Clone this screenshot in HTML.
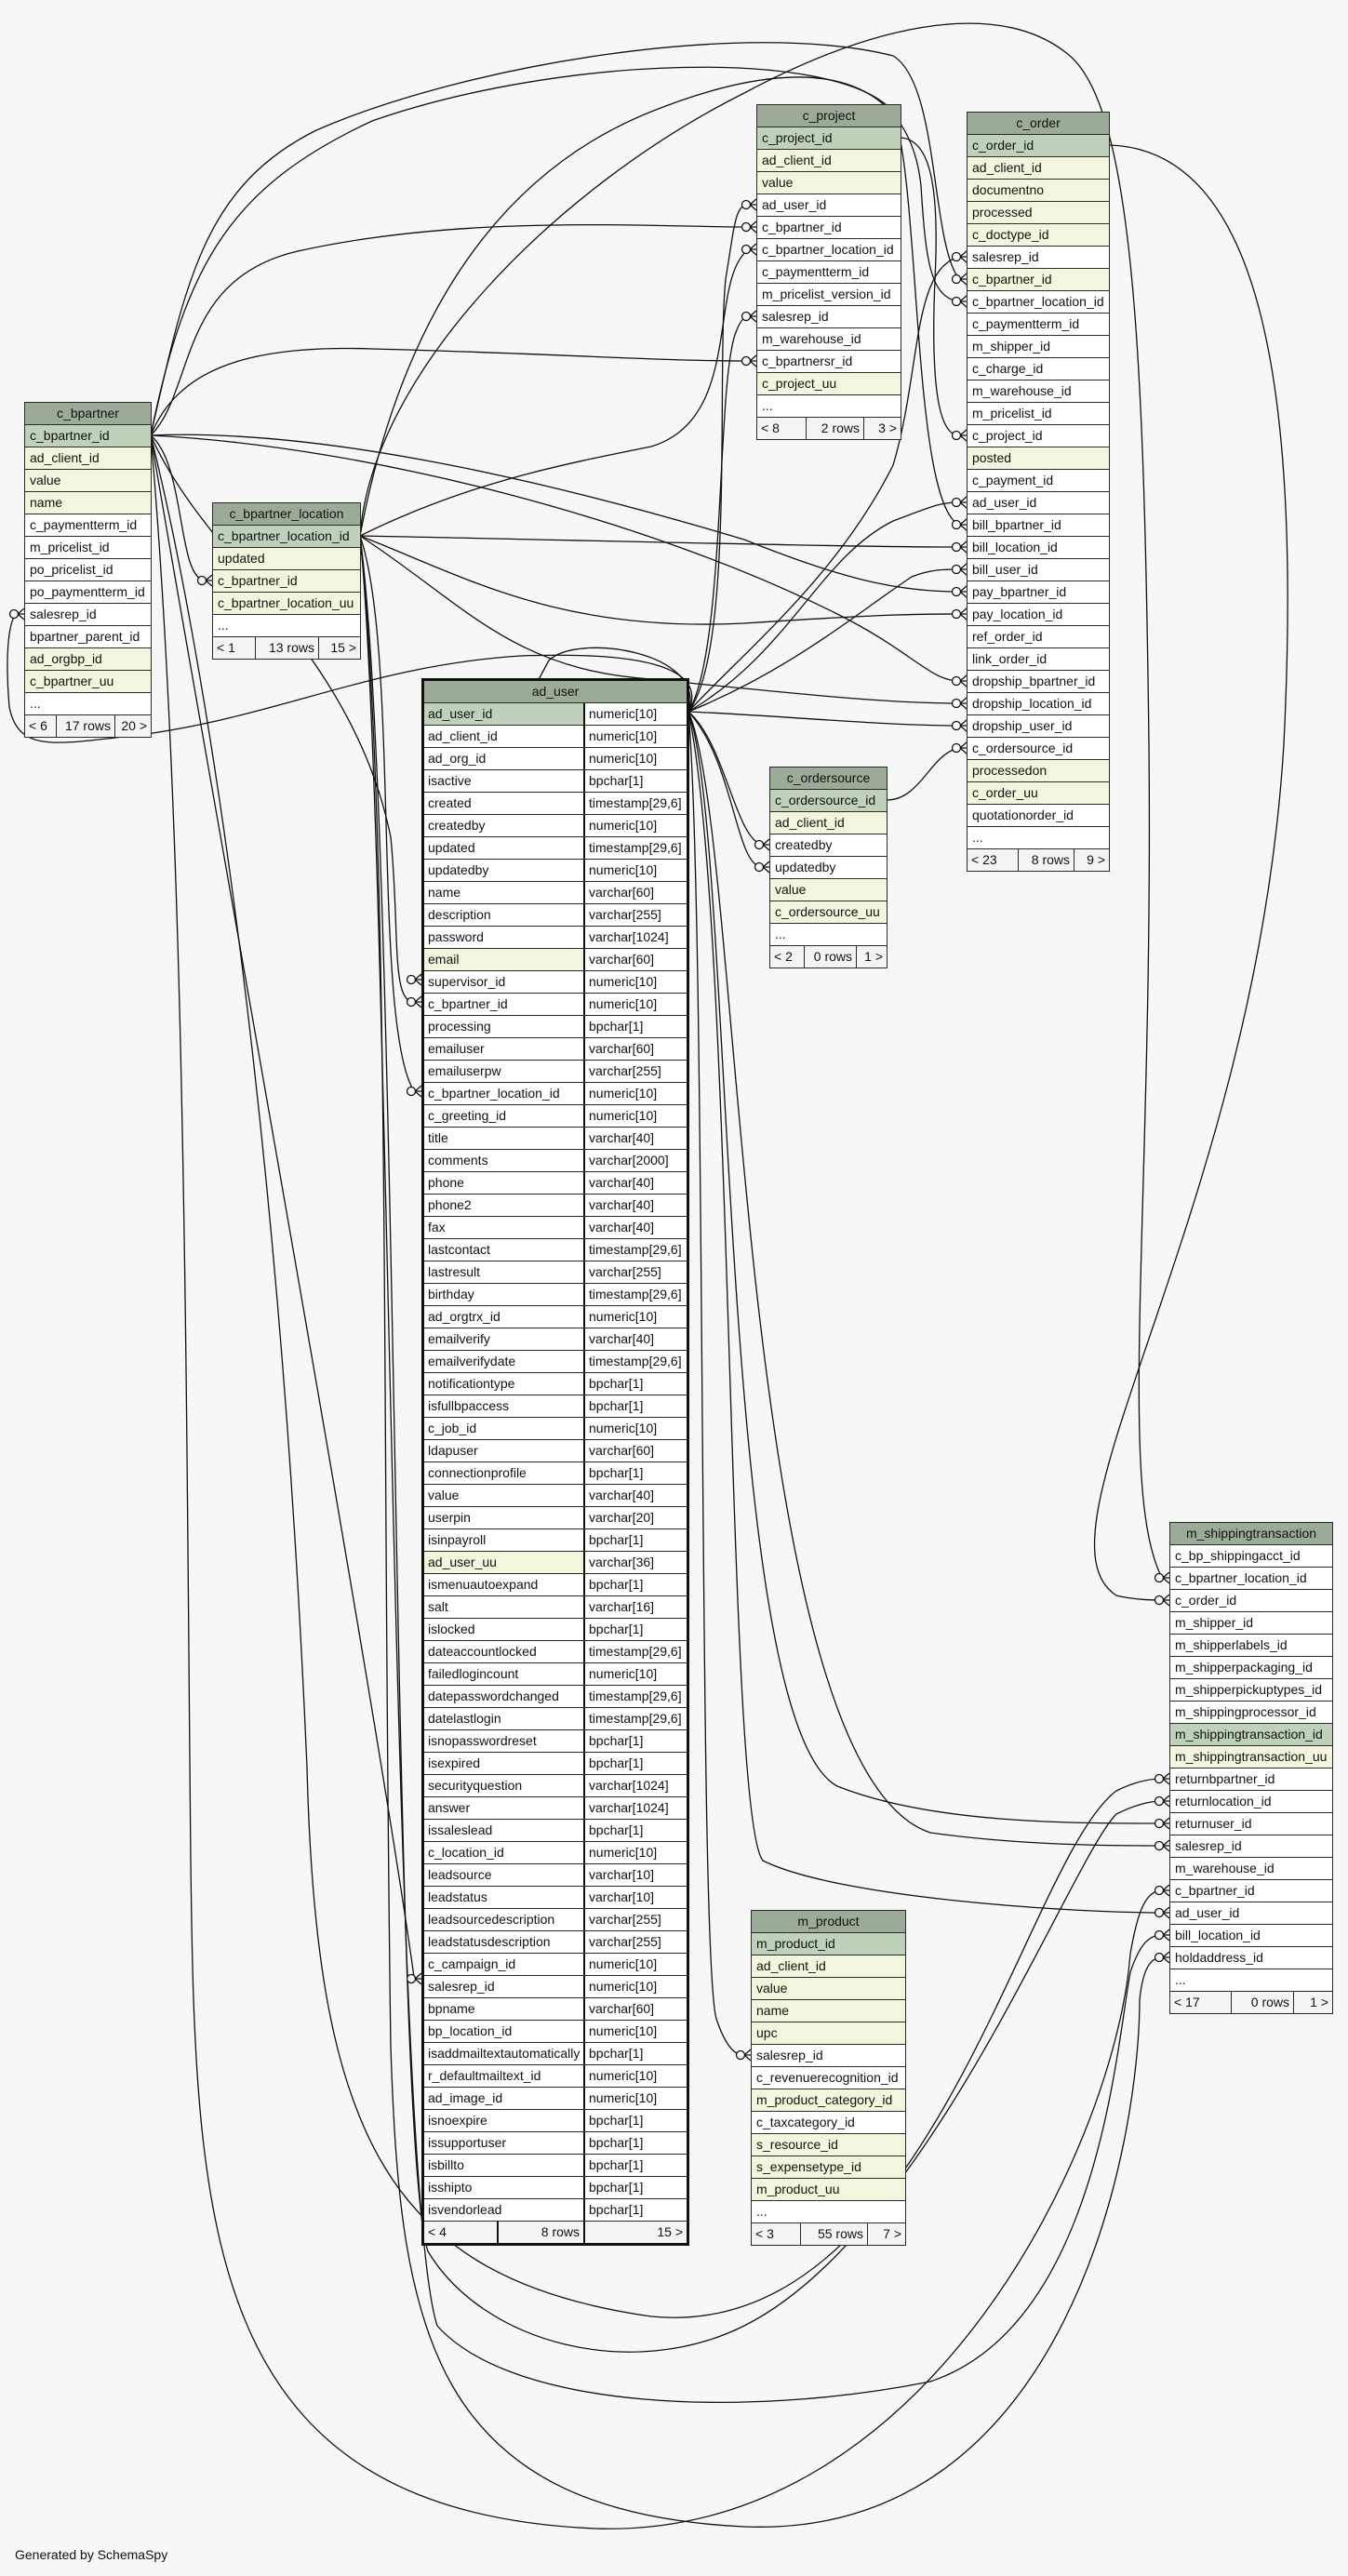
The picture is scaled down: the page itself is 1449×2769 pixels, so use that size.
<!DOCTYPE html>
<html><head><meta charset="utf-8"><style>
body{margin:0;background:#f7f7f7;width:1449px;height:2769px;position:relative;overflow:hidden;font-family:"Liberation Sans",Arial,sans-serif;font-size:14px;color:#111}
svg{position:absolute;left:0;top:0}
.t{position:absolute;box-sizing:border-box;border:1px solid #2a2a2a;background:#fff}
.t>div{height:23px;border-top:1px solid #2a2a2a;line-height:23px;padding-left:5px;white-space:nowrap;overflow:hidden}
.t>div:first-child{border-top:none}
.t>.h{background:#9cab97;text-align:center;padding-left:0}
.t>.p{background:#bfd1bb}
.t>.y{background:#f3f6dc}
.t>.f{display:flex;padding-left:0;background:#f4f4f4}
.f span{display:block;box-sizing:border-box;padding:0 4px;border-left:1px solid #2a2a2a}
.f span:first-child{border-left:none;text-align:left}
.f span.r{text-align:right}
.au{border:3px solid #111}
.au>div{display:flex;padding-left:0}
.au>div span{display:block;box-sizing:border-box;padding-left:4px}
.au>div span.b{border-left:2px solid #111;flex:1}
.au>div span.a{width:171px}
.au>.h{display:block}
.gen{position:absolute;left:16px;top:2738px;font-size:14px}
</style></head><body>
<svg width="1449" height="2769" viewBox="0 0 1449 2769">
<defs>
<g id="cf" fill="none" stroke="#111" stroke-width="1.3"><path d="M-7,0 L0,-6 M-7,0 L0,0 M-7,0 L0,6"/><circle cx="-11" cy="0" r="4.5" fill="#f7f7f7"/></g>
</defs>
<g fill="none" stroke="#111" stroke-width="1.3">
<path d="M162,468 C210,420 190,300 320,270 C500,230 700,244 805,244"/>
<path d="M162,468 C190,400 260,370 400,375 C600,380 700,388 805,388"/>
<path d="M162,468 C200,300 220,200 340,140 C500,70 800,20 960,60 C1010,90 1000,260 1031,300"/>
<path d="M162,468 C200,280 250,200 400,130 C600,60 900,50 960,120 C990,200 980,540 1031,564"/>
<path d="M162,468 C350,460 600,520 800,580 C900,620 960,636 1031,636"/>
<path d="M162,468 C400,480 700,560 900,660 C980,700 1000,732 1031,732"/>
<path d="M162,468 C200,500 190,620 220,624"/>
<path d="M162,468 C220,600 380,700 420,900 C430,1000 420,1077 445,1077"/>
<path d="M162,468 C200,900 200,1500 205,2000 C210,2400 220,2700 640,2718 C1000,2730 1200,2300 1215,2100 C1222,2060 1230,2032 1249,2032"/>
<path d="M162,468 C220,700 300,1200 330,1900 C340,2300 420,2450 700,2490 C1000,2520 1100,2000 1200,1925 C1220,1915 1235,1912 1249,1912"/>
<path d="M162,468 C200,700 400,1800 445,2125"/>
<path d="M387,576 C500,520 600,500 700,480 C800,450 760,300 805,268"/>
<path d="M387,576 C420,400 500,200 700,120 C900,40 980,100 990,200 C995,280 1000,320 1031,324"/>
<path d="M387,576 C600,580 900,588 1031,588"/>
<path d="M387,576 C500,620 600,680 800,670 C950,660 990,660 1031,660"/>
<path d="M387,576 C500,650 550,720 700,730 C850,745 950,756 1031,756"/>
<path d="M387,576 C430,700 400,1100 445,1173"/>
<path d="M387,576 C400,400 600,200 800,100 C950,20 1080,0 1150,60 C1220,120 1230,400 1235,800 C1240,1300 1200,1600 1249,1696"/>
<path d="M387,576 C420,900 410,1500 420,2200 C430,2500 460,2700 800,2716 C1150,2730 1225,2300 1225,2150 C1228,2120 1235,2104 1249,2104"/>
<path d="M387,576 C430,900 420,2300 460,2420 C520,2520 680,2560 800,2500 C1000,2400 1150,2000 1200,1950 C1220,1940 1235,1936 1249,1936"/>
<path d="M387,576 C420,900 420,2350 470,2500 C550,2590 800,2600 1000,2560 C1180,2500 1200,2200 1215,2120 C1225,2090 1235,2080 1249,2080"/>
<path d="M740,765 C850,700 880,600 960,560 C1000,545 1010,540 1031,540"/>
<path d="M740,765 C850,720 920,660 980,620 C1000,612 1015,612 1031,612"/>
<path d="M740,765 C850,770 950,780 1031,780"/>
<path d="M740,765 C790,700 770,400 780,300 C790,240 790,220 805,220"/>
<path d="M740,765 C780,700 770,420 790,360 C795,345 800,340 805,340"/>
<path d="M740,765 C800,700 900,620 960,500 C990,400 980,290 1031,276"/>
<path d="M740,765 C780,800 790,900 819,908"/>
<path d="M740,765 C790,820 790,930 819,932"/>
<path d="M740,765 C790,900 770,1850 900,1920 C1000,1960 1150,1960 1249,1960"/>
<path d="M740,765 C800,900 790,1900 1000,1970 C1100,1984 1200,1984 1249,1984"/>
<path d="M740,765 C790,1000 780,1950 820,2000 C900,2040 1150,2056 1249,2056"/>
<path d="M740,765 C760,1000 750,2100 770,2170 C780,2200 790,2209 799,2209"/>
<path d="M740,765 C760,720 700,700 560,705 C400,715 300,770 150,790 C60,800 20,810 10,760 C5,700 10,665 18,660"/>
<path d="M740,765 C760,700 620,680 590,710 C540,800 470,980 453,1050"/>
<path d="M1192,156 C1350,160 1400,400 1380,800 C1350,1300 1100,1650 1200,1715 C1220,1720 1240,1720 1249,1720"/>
<path d="M968,148 C1000,150 1010,200 1005,300 C1000,420 1010,468 1031,468"/>
<path d="M953,860 C990,860 1000,810 1031,804"/>
</g>
<g>
<use href="#cf" x="813" y="220"/><use href="#cf" x="813" y="244"/><use href="#cf" x="813" y="268"/><use href="#cf" x="813" y="340"/><use href="#cf" x="813" y="388"/>
<use href="#cf" x="1039" y="276"/><use href="#cf" x="1039" y="300"/><use href="#cf" x="1039" y="324"/><use href="#cf" x="1039" y="468"/><use href="#cf" x="1039" y="540"/><use href="#cf" x="1039" y="564"/><use href="#cf" x="1039" y="588"/><use href="#cf" x="1039" y="612"/><use href="#cf" x="1039" y="636"/><use href="#cf" x="1039" y="660"/><use href="#cf" x="1039" y="732"/><use href="#cf" x="1039" y="756"/><use href="#cf" x="1039" y="780"/><use href="#cf" x="1039" y="804"/>
<use href="#cf" x="228" y="624"/><use href="#cf" x="26" y="660"/>
<use href="#cf" x="453" y="1053"/><use href="#cf" x="453" y="1077"/><use href="#cf" x="453" y="1173"/><use href="#cf" x="453" y="2127"/>
<use href="#cf" x="827" y="908"/><use href="#cf" x="827" y="932"/>
<use href="#cf" x="807" y="2209"/>
<use href="#cf" x="1257" y="1696"/><use href="#cf" x="1257" y="1720"/><use href="#cf" x="1257" y="1912"/><use href="#cf" x="1257" y="1936"/><use href="#cf" x="1257" y="1960"/><use href="#cf" x="1257" y="1984"/><use href="#cf" x="1257" y="2032"/><use href="#cf" x="1257" y="2056"/><use href="#cf" x="1257" y="2080"/><use href="#cf" x="1257" y="2104"/>
</g>
</svg>

<div class="t" style="left:26px;top:432px;width:137px">
<div class="h">c_bpartner</div><div class="p">c_bpartner_id</div><div class="y">ad_client_id</div><div class="y">value</div><div class="y">name</div><div>c_paymentterm_id</div><div>m_pricelist_id</div><div>po_pricelist_id</div><div>po_paymentterm_id</div><div>salesrep_id</div><div>bpartner_parent_id</div><div class="y">ad_orgbp_id</div><div class="y">c_bpartner_uu</div><div>...</div>
<div class="f"><span style="width:33px">&lt; 6</span><span class="r" style="width:63px">17 rows</span><span class="r" style="flex:1">20 &gt;</span></div>
</div>

<div class="t" style="left:228px;top:540px;width:160px">
<div class="h">c_bpartner_location</div><div class="p">c_bpartner_location_id</div><div class="y">updated</div><div class="y">c_bpartner_id</div><div class="y">c_bpartner_location_uu</div><div>...</div>
<div class="f"><span style="width:45px">&lt; 1</span><span class="r" style="width:68px">13 rows</span><span class="r" style="flex:1">15 &gt;</span></div>
</div>

<div class="t" style="left:813px;top:112px;width:156px">
<div class="h">c_project</div><div class="p">c_project_id</div><div class="y">ad_client_id</div><div class="y">value</div><div>ad_user_id</div><div>c_bpartner_id</div><div>c_bpartner_location_id</div><div>c_paymentterm_id</div><div>m_pricelist_version_id</div><div>salesrep_id</div><div>m_warehouse_id</div><div>c_bpartnersr_id</div><div class="y">c_project_uu</div><div>...</div>
<div class="f"><span style="width:52px">&lt; 8</span><span class="r" style="width:62px">2 rows</span><span class="r" style="flex:1">3 &gt;</span></div>
</div>

<div class="t" style="left:1039px;top:120px;width:154px">
<div class="h">c_order</div><div class="p">c_order_id</div><div class="y">ad_client_id</div><div class="y">documentno</div><div class="y">processed</div><div class="y">c_doctype_id</div><div>salesrep_id</div><div class="y">c_bpartner_id</div><div>c_bpartner_location_id</div><div>c_paymentterm_id</div><div>m_shipper_id</div><div>c_charge_id</div><div>m_warehouse_id</div><div>m_pricelist_id</div><div>c_project_id</div><div class="y">posted</div><div>c_payment_id</div><div>ad_user_id</div><div>bill_bpartner_id</div><div>bill_location_id</div><div>bill_user_id</div><div>pay_bpartner_id</div><div>pay_location_id</div><div>ref_order_id</div><div>link_order_id</div><div>dropship_bpartner_id</div><div>dropship_location_id</div><div>dropship_user_id</div><div>c_ordersource_id</div><div class="y">processedon</div><div class="y">c_order_uu</div><div>quotationorder_id</div><div>...</div>
<div class="f"><span style="width:54px">&lt; 23</span><span class="r" style="width:60px">8 rows</span><span class="r" style="flex:1">9 &gt;</span></div>
</div>

<div class="t" style="left:827px;top:824px;width:127px">
<div class="h">c_ordersource</div><div class="p">c_ordersource_id</div><div class="y">ad_client_id</div><div>createdby</div><div>updatedby</div><div class="y">value</div><div class="y">c_ordersource_uu</div><div>...</div>
<div class="f"><span style="width:36px">&lt; 2</span><span class="r" style="width:56px">0 rows</span><span class="r" style="flex:1">1 &gt;</span></div>
</div>

<div class="t" style="left:807px;top:2053px;width:167px">
<div class="h">m_product</div><div class="p">m_product_id</div><div class="y">ad_client_id</div><div class="y">value</div><div class="y">name</div><div class="y">upc</div><div>salesrep_id</div><div>c_revenuerecognition_id</div><div class="y">m_product_category_id</div><div>c_taxcategory_id</div><div class="y">s_resource_id</div><div class="y">s_expensetype_id</div><div class="y">m_product_uu</div><div>...</div>
<div class="f"><span style="width:52px">&lt; 3</span><span class="r" style="width:72px">55 rows</span><span class="r" style="flex:1">7 &gt;</span></div>
</div>

<div class="t" style="left:1257px;top:1636px;width:176px">
<div class="h">m_shippingtransaction</div><div>c_bp_shippingacct_id</div><div>c_bpartner_location_id</div><div>c_order_id</div><div>m_shipper_id</div><div>m_shipperlabels_id</div><div>m_shipperpackaging_id</div><div>m_shipperpickuptypes_id</div><div>m_shippingprocessor_id</div><div class="p">m_shippingtransaction_id</div><div class="y">m_shippingtransaction_uu</div><div>returnbpartner_id</div><div>returnlocation_id</div><div>returnuser_id</div><div>salesrep_id</div><div>m_warehouse_id</div><div>c_bpartner_id</div><div>ad_user_id</div><div>bill_location_id</div><div>holdaddress_id</div><div>...</div>
<div class="f"><span style="width:65px">&lt; 17</span><span class="r" style="width:67px">0 rows</span><span class="r" style="flex:1">1 &gt;</span></div>
</div>

<div class="t au" style="left:453px;top:729px;width:288px">
<div class="h">ad_user</div>
<div class="p"><span class="a">ad_user_id</span><span class="b" style="background:#fff">numeric[10]</span></div>
<div><span class="a">ad_client_id</span><span class="b">numeric[10]</span></div>
<div><span class="a">ad_org_id</span><span class="b">numeric[10]</span></div>
<div><span class="a">isactive</span><span class="b">bpchar[1]</span></div>
<div><span class="a">created</span><span class="b">timestamp[29,6]</span></div>
<div><span class="a">createdby</span><span class="b">numeric[10]</span></div>
<div><span class="a">updated</span><span class="b">timestamp[29,6]</span></div>
<div><span class="a">updatedby</span><span class="b">numeric[10]</span></div>
<div><span class="a">name</span><span class="b">varchar[60]</span></div>
<div><span class="a">description</span><span class="b">varchar[255]</span></div>
<div><span class="a">password</span><span class="b">varchar[1024]</span></div>
<div><span class="a" style="background:#f3f6dc">email</span><span class="b">varchar[60]</span></div>
<div><span class="a">supervisor_id</span><span class="b">numeric[10]</span></div>
<div><span class="a">c_bpartner_id</span><span class="b">numeric[10]</span></div>
<div><span class="a">processing</span><span class="b">bpchar[1]</span></div>
<div><span class="a">emailuser</span><span class="b">varchar[60]</span></div>
<div><span class="a">emailuserpw</span><span class="b">varchar[255]</span></div>
<div><span class="a">c_bpartner_location_id</span><span class="b">numeric[10]</span></div>
<div><span class="a">c_greeting_id</span><span class="b">numeric[10]</span></div>
<div><span class="a">title</span><span class="b">varchar[40]</span></div>
<div><span class="a">comments</span><span class="b">varchar[2000]</span></div>
<div><span class="a">phone</span><span class="b">varchar[40]</span></div>
<div><span class="a">phone2</span><span class="b">varchar[40]</span></div>
<div><span class="a">fax</span><span class="b">varchar[40]</span></div>
<div><span class="a">lastcontact</span><span class="b">timestamp[29,6]</span></div>
<div><span class="a">lastresult</span><span class="b">varchar[255]</span></div>
<div><span class="a">birthday</span><span class="b">timestamp[29,6]</span></div>
<div><span class="a">ad_orgtrx_id</span><span class="b">numeric[10]</span></div>
<div><span class="a">emailverify</span><span class="b">varchar[40]</span></div>
<div><span class="a">emailverifydate</span><span class="b">timestamp[29,6]</span></div>
<div><span class="a">notificationtype</span><span class="b">bpchar[1]</span></div>
<div><span class="a">isfullbpaccess</span><span class="b">bpchar[1]</span></div>
<div><span class="a">c_job_id</span><span class="b">numeric[10]</span></div>
<div><span class="a">ldapuser</span><span class="b">varchar[60]</span></div>
<div><span class="a">connectionprofile</span><span class="b">bpchar[1]</span></div>
<div><span class="a">value</span><span class="b">varchar[40]</span></div>
<div><span class="a">userpin</span><span class="b">varchar[20]</span></div>
<div><span class="a">isinpayroll</span><span class="b">bpchar[1]</span></div>
<div><span class="a" style="background:#f3f6dc">ad_user_uu</span><span class="b">varchar[36]</span></div>
<div><span class="a">ismenuautoexpand</span><span class="b">bpchar[1]</span></div>
<div><span class="a">salt</span><span class="b">varchar[16]</span></div>
<div><span class="a">islocked</span><span class="b">bpchar[1]</span></div>
<div><span class="a">dateaccountlocked</span><span class="b">timestamp[29,6]</span></div>
<div><span class="a">failedlogincount</span><span class="b">numeric[10]</span></div>
<div><span class="a">datepasswordchanged</span><span class="b">timestamp[29,6]</span></div>
<div><span class="a">datelastlogin</span><span class="b">timestamp[29,6]</span></div>
<div><span class="a">isnopasswordreset</span><span class="b">bpchar[1]</span></div>
<div><span class="a">isexpired</span><span class="b">bpchar[1]</span></div>
<div><span class="a">securityquestion</span><span class="b">varchar[1024]</span></div>
<div><span class="a">answer</span><span class="b">varchar[1024]</span></div>
<div><span class="a">issaleslead</span><span class="b">bpchar[1]</span></div>
<div><span class="a">c_location_id</span><span class="b">numeric[10]</span></div>
<div><span class="a">leadsource</span><span class="b">varchar[10]</span></div>
<div><span class="a">leadstatus</span><span class="b">varchar[10]</span></div>
<div><span class="a">leadsourcedescription</span><span class="b">varchar[255]</span></div>
<div><span class="a">leadstatusdescription</span><span class="b">varchar[255]</span></div>
<div><span class="a">c_campaign_id</span><span class="b">numeric[10]</span></div>
<div><span class="a">salesrep_id</span><span class="b">numeric[10]</span></div>
<div><span class="a">bpname</span><span class="b">varchar[60]</span></div>
<div><span class="a">bp_location_id</span><span class="b">numeric[10]</span></div>
<div><span class="a">isaddmailtextautomatically</span><span class="b">bpchar[1]</span></div>
<div><span class="a">r_defaultmailtext_id</span><span class="b">numeric[10]</span></div>
<div><span class="a">ad_image_id</span><span class="b">numeric[10]</span></div>
<div><span class="a">isnoexpire</span><span class="b">bpchar[1]</span></div>
<div><span class="a">issupportuser</span><span class="b">bpchar[1]</span></div>
<div><span class="a">isbillto</span><span class="b">bpchar[1]</span></div>
<div><span class="a">isshipto</span><span class="b">bpchar[1]</span></div>
<div><span class="a">isvendorlead</span><span class="b">bpchar[1]</span></div>
<div class="f" style="background:#f4f4f4"><span style="width:78px;border-left:none">&lt; 4</span><span class="r" style="width:93px;border-left:2px solid #111">8 rows</span><span class="r" style="flex:1;border-left:2px solid #111">15 &gt;</span></div>
</div>

<div class="gen">Generated by SchemaSpy</div>
</body></html>
